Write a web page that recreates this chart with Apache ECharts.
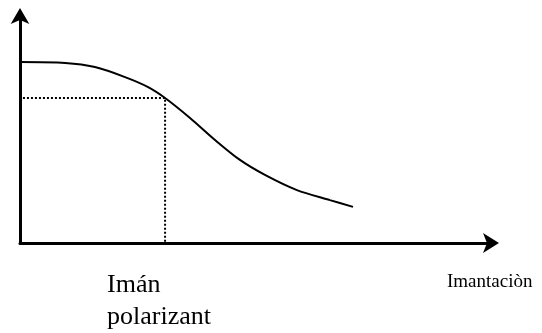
<!DOCTYPE html>
<html>
<head>
    <meta charset="utf-8">
    <title>Imantacion</title>
    <style>
        html, body { margin: 0; padding: 0; background: #fff; }
        #main { width: 542px; height: 333px; }
    </style>
</head>
<body>
<div id="main"></div>
<script src="https://cdn.jsdelivr.net/npm/echarts@6/dist/echarts.min.js"></script>
<script type="text/javascript">
    // curve (axes run 0..100)
    var curveX = [0, 9.6, 15.9, 22.3, 27.2, 30.8, 36.1, 41.4, 46.7, 52.0, 58.8, 65.8, 70.7];
    var curveY = [79.7, 79.3, 77.5, 73.1, 68.7, 63.9, 55.1, 45.4, 36.6, 30.0, 23.3, 18.9, 15.9];
    // dotted box: corner where the curve crosses
    var boxX = [0, 0, 30.8, 30.8, 0];
    var boxY = [0, 63.9, 63.9, 0, 0];
    var labelLeft = ['Imán', 'polarizant'];
    var labelRight = 'Imantaciòn';

    function pairs(xs, ys) {
        var out = [];
        for (var i = 0; i < xs.length; i++) out.push([xs[i], ys[i]]);
        return out;
    }

    var chart = echarts.init(document.getElementById('main'));
    var axisCommon = {
        type: 'value',
        min: 0,
        max: 100,
        axisLabel: { show: false },
        axisTick: { show: false },
        splitLine: { show: false }
    };
    chart.setOption({
        backgroundColor: '#fff',
        animation: false,
        grid: { left: 20, right: 51, top: 16, bottom: 90 },
        xAxis: Object.assign({}, axisCommon, {
            axisLine: {
                show: true,
                symbol: ['none', 'arrow'],
                symbolSize: [15, 16],
                symbolOffset: [0, 8],
                lineStyle: { color: '#000', width: 3 }
            }
        }),
        yAxis: Object.assign({}, axisCommon, {
            axisLine: {
                show: true,
                symbol: ['none', 'arrow'],
                symbolSize: [14, 16],
                symbolOffset: [0, 8],
                lineStyle: { color: '#000', width: 3 }
            }
        }),
        series: [
            {
                type: 'line',
                data: pairs(boxX, boxY),
                symbol: 'none',
                lineStyle: { color: '#000', width: 2, type: [2, 2] }
            },
            {
                type: 'line',
                data: pairs(curveX, curveY),
                symbol: 'none',
                smooth: 0.3,
                lineStyle: { color: '#000', width: 2 }
            }
        ],
        graphic: [
            {
                type: 'text', left: 107, top: 269,
                style: {
                    text: labelLeft.join('\n'),
                    font: '26px "Liberation Serif"',
                    lineHeight: 32,
                    fill: '#000'
                }
            },
            {
                type: 'text', left: 447, top: 273,
                style: {
                    text: labelRight,
                    font: '19px "Liberation Serif"',
                    fill: '#000'
                }
            }
        ]
    });
</script>
</body>
</html>
